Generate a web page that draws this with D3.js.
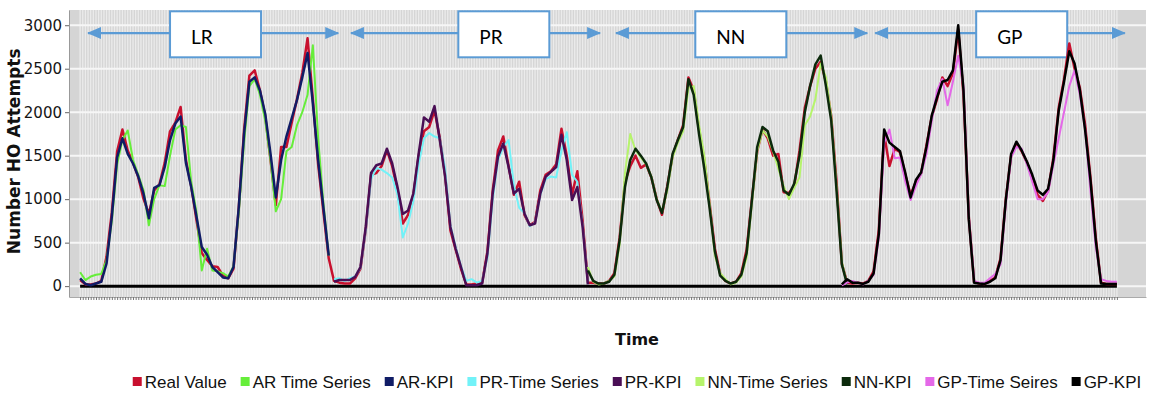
<!DOCTYPE html>
<html lang="en">
<head>
<meta charset="utf-8">
<title>Number HO Attempts</title>
<script src="https://cdn.jsdelivr.net/npm/d3@7"></script>
<style>
  body { margin: 0; background: #fff; }
  svg { display: block; }
</style>
</head>
<body>
<script>
// Real value over the whole time range (4 sections: LR, PR, NN, GP)
var realValue = [
  // LR 0-47
  70, 20, 20, 30, 60, 340, 850, 1550, 1800, 1560,
  1420, 1250, 1000, 830, 1100, 1170, 1420, 1780, 1880, 2060,
  1450, 1150, 760, 380, 300, 230, 220, 120, 90, 200,
  900, 1800, 2420, 2480, 2250, 1950, 1450, 930, 1600, 1600,
  1880, 2150, 2450, 2850, 2150, 1400, 850, 320,
  // PR 48-95
  60, 40, 30, 30, 90, 200, 650, 1280, 1300, 1380,
  1560, 1380, 1100, 720, 820, 1050, 1500, 1780, 1830, 2020,
  1700, 1280, 640, 420, 200, 20, 20, 30, 40, 400,
  1100, 1560, 1720, 1380, 1050, 1200, 820, 700, 740, 1100,
  1280, 1320, 1400, 1810, 1500, 1050, 1320, 750,
  // NN 96-143
  40, 40, 30, 30, 60, 150, 560, 1200, 1380, 1500,
  1360, 1400, 1250, 1000, 820, 1150, 1500, 1680, 1850, 2400,
  2250, 1800, 1450, 950, 430, 140, 60, 30, 50, 150,
  420, 1000, 1550, 1800, 1700, 1500, 1520, 1080, 1070, 1150,
  1560, 2050, 2300, 2500, 2580, 2350, 1950, 1200,
  // GP 144-196
  260, 40, 30, 40, 30, 60, 170, 650, 1750, 1380,
  1580, 1540, 1280, 1050, 1200, 1300, 1620, 1950, 2150, 2400,
  2300, 2450, 2950, 2200, 800, 50, 30, 25, 60, 100,
  320, 1000, 1500, 1650, 1550, 1420, 1250, 1050, 980, 1100,
  1480, 2050, 2380, 2790, 2500, 2280, 1850, 1250, 560, 40,
  25, 25, 25
];

// model outputs, each starting at its section's first time index
var arStart = 0, prStart = 48, nnStart = 96, gpStart = 144;

var arTimeSeries = [
  160, 70, 110, 130, 140, 300, 750, 1400, 1680, 1790,
  1450, 1280, 1100, 700, 1000, 1160, 1150, 1500, 1800, 1850,
  1830, 1200, 850, 180, 430, 180, 170, 150, 110, 230,
  850, 1650, 2300, 2380, 2200, 1900, 1450, 860, 1000, 1550,
  1600, 1850, 2000, 2200, 2770, 1700, 950, 350
];
var arKPI = [
  90, 25, 10, 30, 50, 260, 800, 1480, 1700, 1520,
  1410, 1260, 1060, 780, 1130, 1160, 1370, 1680, 1870, 1950,
  1420, 1140, 800, 450, 360, 220, 160, 100, 90, 220,
  910, 1750, 2350, 2400, 2250, 1980, 1520, 1020, 1450, 1720,
  1930, 2140, 2400, 2680, 2100, 1450, 900, 350
];
var prTimeSeries = [
  80, 90, 60, 90, 110, 210, 640, 1230, 1360, 1340,
  1300, 1250, 1050, 560, 720, 980, 1400, 1700, 1760, 1720,
  1700, 1350, 700, 450, 230, 60, 80, 40, 60, 330,
  1000, 1450, 1600, 1680, 1160, 900, 840, 690, 730, 1050,
  1230, 1260, 1250, 1560, 1770, 1280, 1200, 700, 30
];
var prKPI = [
  50, 70, 70, 70, 107, 220, 680, 1300, 1390, 1410,
  1580, 1410, 1140, 830, 870, 1065, 1520, 1940, 1890, 2070,
  1680, 1260, 680, 430, 220, 10, 10, 10, 30, 375,
  1065, 1490, 1640, 1370, 1065, 1120, 835, 700, 720, 1065,
  1256, 1313, 1370, 1740, 1450, 990, 1140, 680, 20
];
var nnTimeSeries = [
  220, 50, 20, 30, 60, 110, 480, 1300, 1750, 1560,
  1480, 1400, 1260, 1000, 850, 1100, 1480, 1650, 1780, 2280,
  2300, 1850, 1500, 950, 350, 150, 80, 20, 40, 110,
  330, 950, 1550, 1790, 1720, 1550, 1350, 1150, 1000, 1130,
  1250, 1850, 1950, 2150, 2560, 2400, 1950, 1150, 280, 20
];
var nnKPI = [
  180, 60, 30, 30, 50, 130, 530, 1140, 1450, 1580,
  1500, 1410, 1250, 990, 840, 1140, 1520, 1680, 1830, 2380,
  2200, 1750, 1350, 900, 400, 120, 60, 30, 50, 130,
  380, 990, 1600, 1830, 1780, 1560, 1430, 1100, 1050, 1180,
  1500, 2000, 2300, 2550, 2650, 2300, 1900, 1100, 250, 20
];
var gpTimeSeries = [
  10, 40, 60, 40, 20, 60, 130, 560, 1650, 1800,
  1470, 1480, 1200, 990, 1150, 1290, 1520, 1900, 2250, 2380,
  2080, 2350, 2650, 2300, 800, 60, 40, 40, 90, 140,
  250, 950, 1480, 1600, 1580, 1400, 1200, 1000, 1000, 1080,
  1400, 1700, 2000, 2300, 2480, 2200, 1800, 1100, 450, 80,
  60, 50, 50
];
var gpKPI = [
  20, 80, 40, 40, 25, 50, 145, 600, 1800, 1650,
  1600, 1550, 1300, 1020, 1220, 1310, 1600, 1960, 2170, 2350,
  2370, 2480, 3000, 2250, 770, 40, 30, 25, 50, 90,
  300, 990, 1520, 1660, 1560, 1430, 1280, 1100, 1050, 1120,
  1450, 2020, 2350, 2700, 2560, 2250, 1790, 1220, 530, 30,
  25, 25, 25
];

var yTicks = [0, 500, 1000, 1500, 2000, 2500, 3000];

// section annotations (time index units)
var sectionLabels = ["LR", "PR", "NN", "GP"];
var arrowFrom = [1.5, 51.2, 101.3, 150.3];
var arrowTo = [48.8, 98.3, 148.8, 197.5];
var boxFrom = [17.0, 71.5, 116.3, 169.4];

var series = [
  {name: "Real Value",     values: realValue,    start: 0,       color: "#c8102e", width: 2.5},
  {name: "AR Time Series", values: arTimeSeries, start: arStart, color: "#66ee3a", width: 2},
  {name: "AR-KPI",         values: arKPI,        start: arStart, color: "#101c66", width: 2.5},
  {name: "PR-Time Series", values: prTimeSeries, start: prStart, color: "#72f2f8", width: 2},
  {name: "PR-KPI",         values: prKPI,        start: prStart, color: "#4a0e55", width: 2.5},
  {name: "NN-Time Series", values: nnTimeSeries, start: nnStart, color: "#b6f46c", width: 2},
  {name: "NN-KPI",         values: nnKPI,        start: nnStart, color: "#0c2a0c", width: 2.5},
  {name: "GP-Time Seires", values: gpTimeSeries, start: gpStart, color: "#e468e8", width: 2},
  {name: "GP-KPI",         values: gpKPI,        start: gpStart, color: "#000000", width: 2.5}
];

var w = 1150, h = 394;
var svg = d3.select("body").append("svg")
    .attr("width", w)
    .attr("height", h);

var lastIdx = realValue.length - 1;
var xScale = d3.scaleLinear().domain([-2.1, 201.5]).range([69, 1146]);
var yScale = d3.scaleLinear().domain([-125, 3175]).range([297, 10]);

//plot background
svg.append("rect")
    .attr("x", xScale(-2.1))
    .attr("y", yScale(3175))
    .attr("width", xScale(201.5) - xScale(-2.1))
    .attr("height", yScale(-125) - yScale(3175))
    .attr("fill", "#d5d5d5");

//vertical stripes, one per tick
var tickIdx = d3.range(0, lastIdx + 0.01, 0.5);
svg.append("g").selectAll("line")
    .data(tickIdx)
    .enter()
    .append("line")
    .attr("x1", function(d) { return xScale(d); })
    .attr("x2", function(d) { return xScale(d); })
    .attr("y1", yScale(3175))
    .attr("y2", yScale(-125))
    .attr("stroke", "#ebebeb")
    .attr("stroke-width", 1.3);

//horizontal grid
svg.append("g").selectAll("line")
    .data(yTicks)
    .enter()
    .append("line")
    .attr("x1", xScale(-2.1))
    .attr("x2", xScale(201.5))
    .attr("y1", function(d) { return yScale(d); })
    .attr("y2", function(d) { return yScale(d); })
    .attr("stroke", "#f6f6f6")
    .attr("stroke-width", 2);

//axes
var yAxis = d3.axisLeft(yScale)
    .tickValues(yTicks)
    .tickFormat(d3.format("d"))
    .tickSize(4)
    .tickSizeOuter(0)
    .tickPadding(3);
var gy = svg.append("g")
    .attr("transform", "translate(" + xScale(-2.1) + ",0)")
    .call(yAxis);
gy.select(".domain").attr("stroke", "#999");
gy.selectAll(".tick line").attr("stroke", "#666");
gy.selectAll("text")
    .attr("font-family", "'DejaVu Sans', sans-serif")
    .attr("font-size", "15px")
    .attr("fill", "#151515");

var xAxis = d3.axisBottom(xScale).tickValues(tickIdx).tickSize(3).tickSizeOuter(0).tickFormat("");
var gx = svg.append("g")
    .attr("transform", "translate(0," + yScale(-125) + ")")
    .call(xAxis);
gx.select(".domain").attr("stroke", "#aaa");
gx.selectAll(".tick line").attr("stroke", "#777");

//section arrows and boxes
var defs = svg.append("defs");
defs.append("marker")
    .attr("id", "arrowHead")
    .attr("markerUnits", "userSpaceOnUse")
    .attr("viewBox", "0 0 14 12")
    .attr("refX", 13)
    .attr("refY", 6)
    .attr("markerWidth", 14)
    .attr("markerHeight", 12)
    .attr("orient", "auto-start-reverse")
    .append("path")
    .attr("d", "M0,0 L14,6 L0,12 Z")
    .attr("fill", "#5b9bd5");

var ann = svg.append("g");
sectionLabels.forEach(function(label, i) {
    ann.append("line")
        .attr("x1", xScale(arrowFrom[i]))
        .attr("x2", xScale(arrowTo[i]))
        .attr("y1", yScale(2910))
        .attr("y2", yScale(2910))
        .attr("stroke", "#5b9bd5")
        .attr("stroke-width", 2.2)
        .attr("marker-start", "url(#arrowHead)")
        .attr("marker-end", "url(#arrowHead)");
    ann.append("rect")
        .attr("x", xScale(boxFrom[i]))
        .attr("y", yScale(3160))
        .attr("width", 91)
        .attr("height", 46)
        .attr("fill", "#fff")
        .attr("stroke", "#5b9bd5")
        .attr("stroke-width", 2);
    ann.append("text")
        .attr("x", xScale(boxFrom[i]) + 21)
        .attr("y", yScale(3160) + 33)
        .attr("font-family", "Lato, 'Open Sans', sans-serif")
        .attr("font-size", "19px")
        .attr("fill", "#000")
        .text(label);
});

//zero line
svg.append("line")
    .attr("x1", xScale(0))
    .attr("x2", xScale(lastIdx))
    .attr("y1", yScale(0))
    .attr("y2", yScale(0))
    .attr("stroke", "#000")
    .attr("stroke-width", 3);

//data lines
var lineGen = d3.line()
    .x(function(d) { return xScale(d.i); })
    .y(function(d) { return yScale(d.v); });

svg.append("g").selectAll("path")
    .data(series)
    .enter()
    .append("path")
    .attr("d", function(s) {
        return lineGen(s.values.map(function(v, k) { return {i: s.start + k, v: v}; }));
    })
    .attr("fill", "none")
    .attr("stroke", function(s) { return s.color; })
    .attr("stroke-width", function(s) { return s.width; })
    .attr("stroke-linejoin", "round");

//axis titles
svg.append("text")
    .attr("transform", "translate(20," + yScale(1550) + ") rotate(-90)")
    .attr("text-anchor", "middle")
    .attr("font-family", "'DejaVu Sans', sans-serif")
    .attr("font-weight", "bold")
    .attr("font-size", "17px")
    .attr("fill", "#111")
    .text("Number HO Attempts");

svg.append("text")
    .attr("x", 637)
    .attr("y", 345)
    .attr("text-anchor", "middle")
    .attr("font-family", "'DejaVu Sans', sans-serif")
    .attr("font-weight", "bold")
    .attr("font-size", "16px")
    .attr("fill", "#111")
    .text("Time");

//legend
var legend = svg.append("g");
var items = legend.selectAll("g")
    .data(series)
    .enter()
    .append("g");
items.append("rect")
    .attr("width", 9)
    .attr("height", 9)
    .attr("y", 377)
    .attr("fill", function(s) { return s.color; });
items.append("text")
    .attr("x", 12)
    .attr("y", 388)
    .attr("font-family", "'Liberation Sans', Arial, sans-serif")
    .attr("font-size", "17px")
    .attr("fill", "#111")
    .text(function(s) { return s.name; });

var offsets = [];
var total = 0;
items.each(function(s, k) {
    var tw = d3.select(this).select("text").node().getComputedTextLength();
    offsets.push(total);
    total += 12 + tw + 14;
});
total -= 14;
var legendLeft = 637 - total / 2;
items.attr("transform", function(s, k) { return "translate(" + (legendLeft + offsets[k]) + ",0)"; });
</script>
</body>
</html>
